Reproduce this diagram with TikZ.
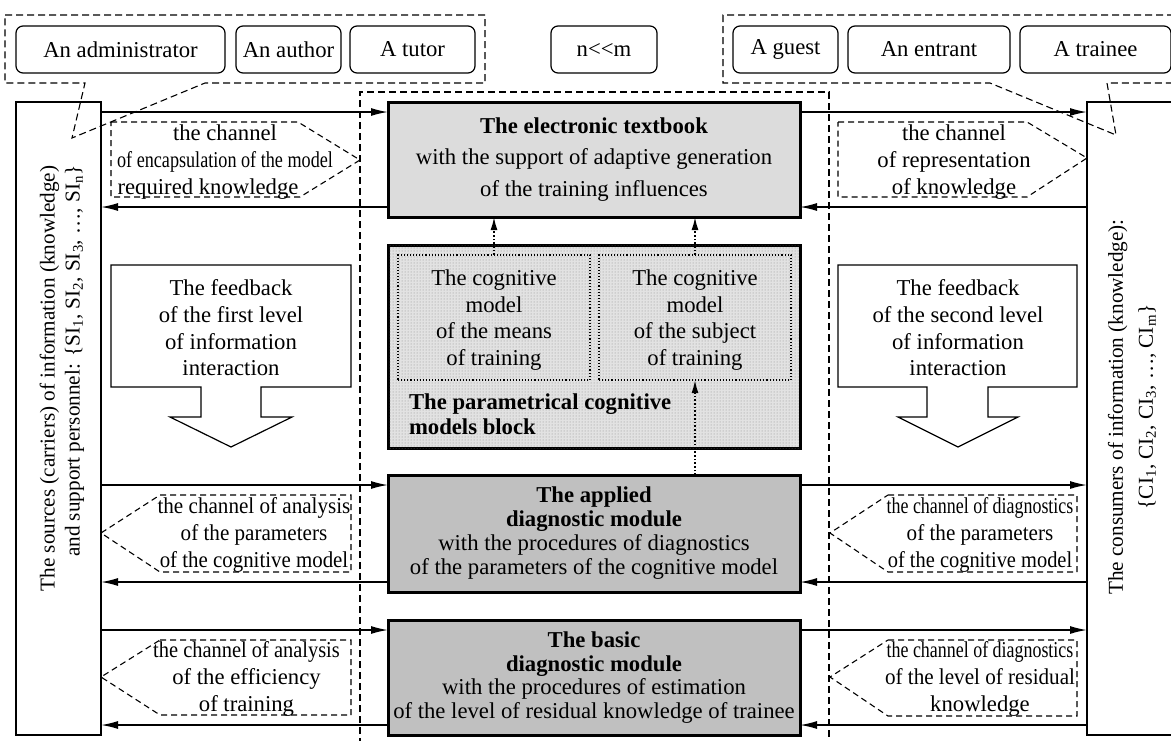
\documentclass[tikz,border=0pt]{standalone}
\usepackage{fontspec}
\setmainfont{Liberation Serif}
\usepackage{graphicx}
\usetikzlibrary{arrows.meta,calc,patterns}

\definecolor{boxlight}{HTML}{DCDCDC}
\definecolor{boxdark}{HTML}{C0C0C0}
\definecolor{boxtex}{HTML}{E2E2E2}

\newcommand{\mainsize}{\fontsize{22.7}{26.7}\selectfont}

\begin{document}
\begin{tikzpicture}[x=1pt,y=-1pt,
  every node/.style={inner sep=0pt, outer sep=0pt},
  font=\mainsize,
  actor/.style={draw, rounded corners=7pt, line width=1.2pt, minimum height=47pt},
  grp/.style={draw, line width=1.1pt, dash pattern=on 7pt off 4pt},
  chan/.style={draw, line width=1.1pt, dash pattern=on 6pt off 4pt},
  module/.style={draw, line width=3pt, minimum width=412pt},
  side/.style={draw, line width=1.3pt},
  inner/.style={draw, line width=1.1pt, dotted, minimum width=192pt, minimum height=125pt},
  flow/.style={line width=1.5pt, -{Latex[length=17pt,width=8pt]}},
  dep/.style={line width=1.7pt, dotted, -{Latex[length=13pt,width=7pt]}},
  lbl/.style={align=center},
  feed/.style={draw, line width=1.2pt, line join=miter},
]
\useasboundingbox (0,0) rectangle (1171,740);

% ---------- top row: actors ----------
\draw[grp] (5,15) -- (485,15) -- (485,83) -- (205,83) -- (72,138) -- (85,83) -- (5,83) -- cycle;
\draw[grp] (1185,15) -- (723,15) -- (723,83) -- (990,83) -- (1116,135) -- (1107,83) -- (1185,83);

\node[actor, minimum width=209pt] (admin)   at (120.5,49.5) {An administrator};
\node[actor, minimum width=105pt] (author)  at (288.5,49.5) {An author};
\node[actor, minimum width=125pt] (tutor)   at (412.5,49.5) {A tutor};
\node[actor, minimum width=106pt] (ratio)   at (604,49.5)   {n{<}{<}m};
\node[actor, minimum width=105pt] (guest)   at (785.5,49.5) {A guest};
\node[actor, minimum width=162pt] (entrant) at (929,49.5)   {An entrant};
\node[actor, minimum width=151pt] (trainee) at (1095.5,49.5){A trainee};

% ---------- central dashed frame ----------
\draw[grp] (360,745) -- (360,92) -- (829,92) -- (829,745);

% ---------- sources and consumers ----------
\node[side, minimum width=85pt, minimum height=633pt] (src) at (58.5,418.5) {};
\node[rotate=90, align=right, font=\fontsize{21.2}{25}\selectfont] (srctext) at (62,378.5)
  {The sources (carriers) of information (knowledge)\\
   and support personnel: \{SI\textsubscript{1}, SI\textsubscript{2}, SI\textsubscript{3}, …, SI\textsubscript{n}\}};

\node[side, minimum width=140pt, minimum height=633pt] (cons) at (1157,418.5) {};
\node[rotate=90, align=center, font=\fontsize{21.2}{30}\selectfont] (constext) at (1132,407)
  {The consumers of information (knowledge):\\
   \{CI\textsubscript{1}, CI\textsubscript{2}, CI\textsubscript{3}, …, CI\textsubscript{m}\}};

% ---------- central modules ----------
\node[module, fill=boxlight, minimum height=115pt, align=center,
      font=\fontsize{22.7}{31.5}\selectfont] (etb) at (594,159.5)
  {\textbf{The electronic textbook}\\
   with the support of adaptive generation\\
   of the training influences};

\node[module, fill=boxtex, minimum height=203pt,
      postaction={pattern=dots, pattern color=black!45}] (pcm) at (594,346.5) {};
\node[inner] (cmL) at (494,317.5) {};
\node[inner] (cmR) at (695,317.5) {};
\node[lbl] (cmLtext) at (494,320) {The cognitive\\model\\of the means\\of training};
\node[lbl] (cmRtext) at (695,320) {The cognitive\\model\\of the subject\\of training};
\node[align=left, anchor=west, font=\fontsize{22.7}{25}\selectfont\bfseries] (pcmtext) at (409,414)
  {The parametrical cognitive\\models block};

\node[module, fill=boxdark, minimum height=117pt, align=center,
      font=\fontsize{22.7}{24}\selectfont] (app) at (594,533.5)
  {\textbf{The applied}\\
   \textbf{diagnostic module}\\
   with the procedures of diagnostics\\
   of the parameters of the cognitive model};

\node[module, fill=boxdark, minimum height=115pt, align=center,
      font=\fontsize{22.7}{23.5}\selectfont] (bas) at (594,677.5)
  {\textbf{The basic}\\
   \textbf{diagnostic module}\\
   with the procedures of estimation\\
   of the level of residual knowledge of trainee};

% ---------- dependencies between models ----------
\draw[dep] (cmL.north) -- (cmL.north |- etb.south);
\draw[dep] (cmR.north) -- (cmR.north |- etb.south);
\draw[dep] (cmR.south |- app.north) -- (cmR.south);

% ---------- information flows ----------
\foreach \m in {etb,app,bas}{
  \coordinate (\m-in)  at ($(\m.north)+(0,10)$);
  \coordinate (\m-out) at ($(\m.south)+(0,-10)$);
  \draw[flow] (src.east |- \m-in) -- (\m.west |- \m-in);
  \draw[flow] (\m.west |- \m-out) -- (src.east |- \m-out);
  \draw[flow] (\m.east |- \m-in) -- (cons.west |- \m-in);
  \draw[flow] (cons.west |- \m-out) -- (\m.east |- \m-out);
}

% ---------- channel callouts ----------
\draw[chan] (111,122) -- (298,122) -- (360,160) -- (300,197) -- (111,197) -- cycle;
\node[lbl] (chEnc) at (225,162)
  {the channel\\
   \scalebox{0.8}[1]{of encapsulation of the model}\\
   \hspace*{-34pt}required knowledge};

\draw[chan] (838,122) -- (1027,122) -- (1087,158) -- (1027,197) -- (838,197) -- cycle;
\node[lbl] (chRep) at (954,162) {the channel\\of representation\\of knowledge};

\draw[chan] (160,495) -- (351,495) -- (351,572) -- (160,572) -- (101,533) -- cycle;
\node[lbl] (chAnP) at (254,535)
  {\scalebox{0.93}[1]{the channel of analysis}\\
   \scalebox{0.93}[1]{of the parameters}\\
   \scalebox{0.92}[1]{of the cognitive model}};

\draw[chan] (160,640) -- (351,640) -- (351,715) -- (160,715) -- (101,677) -- cycle;
\node[lbl] (chAnE) at (246.5,679)
  {\scalebox{0.9}[1]{the channel of analysis}\\
   of the efficiency\\
   of training};

\draw[chan] (888,495) -- (1077,495) -- (1077,572) -- (888,572) -- (830,533) -- cycle;
\node[lbl] (chDiP) at (980,535)
  {\scalebox{0.79}[1]{the channel of diagnostics}\\
   \scalebox{0.93}[1]{of the parameters}\\
   \scalebox{0.9}[1]{of the cognitive model}};

\draw[chan] (888,640) -- (1077,640) -- (1077,716) -- (888,716) -- (830,677) -- cycle;
\node[lbl] (chDiR) at (980,679)
  {\scalebox{0.79}[1]{the channel of diagnostics}\\
   \scalebox{0.93}[1]{of the level of residual}\\
   knowledge};

% ---------- feedback block arrows ----------
\draw[feed] (111,265) -- (351,265) -- (351,387) -- (261,387) -- (261,417) -- (292,417)
  -- (231,447) -- (170,417) -- (201,417) -- (201,387) -- (111,387) -- cycle;
\node[lbl] (fb1) at (231,328) {The feedback\\of the first level\\of information\\interaction};

\draw[feed] (838,265) -- (1077,265) -- (1077,387) -- (988,387) -- (988,417) -- (1018,417)
  -- (958,447) -- (898,417) -- (927,417) -- (927,387) -- (838,387) -- cycle;
\node[lbl] (fb2) at (958,328) {The feedback\\of the second level\\of information\\interaction};

\end{tikzpicture}
\end{document}
